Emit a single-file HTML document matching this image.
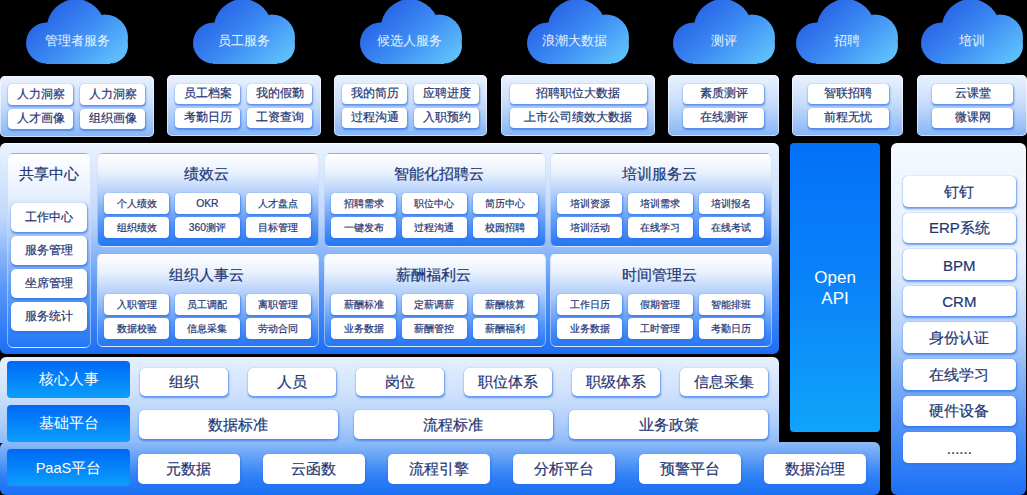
<!DOCTYPE html><html><head><meta charset="utf-8"><style>
*{margin:0;padding:0;box-sizing:border-box}
html,body{width:1027px;height:495px;background:#000;overflow:hidden}
body{position:relative;font-family:"Liberation Sans",sans-serif;color:#1e3674}
.a{position:absolute}
.cl{position:absolute;width:102px;height:64px;top:0}
.cl svg{position:absolute;left:0;top:0}
.cl span{position:absolute;left:0;width:102px;top:33px;text-align:center;color:#eaf2ff;font-size:12.5px;line-height:16px}
.tp{position:absolute;top:75px;height:61.3px;border-radius:5px;background:linear-gradient(180deg,#eaf2fe 0%,#c9ddfb 45%,#86b5f6 100%);box-shadow:inset 0 0 0 1px rgba(255,255,255,.55)}
.b{position:absolute;background:#fff;border-radius:4px;box-shadow:0.5px 1.5px 2px rgba(40,110,235,.65),0 0 1px rgba(80,130,220,.5);-webkit-text-stroke:0.2px #1e3674;display:flex;align-items:center;justify-content:center;white-space:nowrap;color:#1e3674}
.t12{font-size:11.8px}
.t11{font-size:10.3px;padding-top:1px}
.t15{font-size:15px}
.mp{position:absolute;left:0;top:143px;width:779px;height:211px;border-radius:6px;background:linear-gradient(180deg,#eaf2fe 0%,#c0d8fb 35%,#5a98f6 68%,#1b6ef5 100%);box-shadow:inset 0 1px 0 rgba(255,255,255,.8)}
.blk{position:absolute;border-radius:6px;border:1px solid rgba(196,216,248,.6);background:linear-gradient(180deg,#ffffff 0%,#e9f1fd 20%,#accbfa 45%,#629df6 72%,#2277f5 100%);}
.ttl{position:absolute;left:0;right:0;text-align:center;font-size:15px;-webkit-text-stroke:0.2px #1e3674;line-height:20px;color:#1e3674}
.lab{position:absolute;left:7px;width:123px;border-radius:4px;background:linear-gradient(180deg,#0068f7 0%,#0a9ffb 100%);color:#fff;font-size:14.6px;display:flex;align-items:center;justify-content:center;padding-top:1px}
</style></head><body>
<svg width="0" height="0" style="position:absolute"><defs><linearGradient id="cg" x1="30" y1="0" x2="85" y2="64" gradientUnits="userSpaceOnUse"><stop offset="0" stop-color="#2762e6"/><stop offset="0.5" stop-color="#3d8cf3"/><stop offset="1" stop-color="#5ebefc"/></linearGradient></defs></svg>
<div class="cl" style="left:26.4px"><svg width="102" height="64" viewBox="0 0 102 64"><g fill="url(#cg)"><circle cx="20.5" cy="43" r="20.5"/><circle cx="49.8" cy="28.2" r="29"/><circle cx="79" cy="37.5" r="23"/><rect x="20" y="36" width="64" height="28"/><circle cx="84" cy="45.6" r="18"/></g></svg><span style="left:0px">管理者服务</span></div>
<div class="cl" style="left:193.1px"><svg width="102" height="64" viewBox="0 0 102 64"><g fill="url(#cg)"><circle cx="20.5" cy="43" r="20.5"/><circle cx="49.8" cy="28.2" r="29"/><circle cx="79" cy="37.5" r="23"/><rect x="20" y="36" width="64" height="28"/><circle cx="84" cy="45.6" r="18"/></g></svg><span style="left:0px">员工服务</span></div>
<div class="cl" style="left:359.7px"><svg width="102" height="64" viewBox="0 0 102 64"><g fill="url(#cg)"><circle cx="20.5" cy="43" r="20.5"/><circle cx="49.8" cy="28.2" r="29"/><circle cx="79" cy="37.5" r="23"/><rect x="20" y="36" width="64" height="28"/><circle cx="84" cy="45.6" r="18"/></g></svg><span style="left:-1.4px">候选人服务</span></div>
<div class="cl" style="left:526.9px"><svg width="102" height="64" viewBox="0 0 102 64"><g fill="url(#cg)"><circle cx="20.5" cy="43" r="20.5"/><circle cx="49.8" cy="28.2" r="29"/><circle cx="79" cy="37.5" r="23"/><rect x="20" y="36" width="64" height="28"/><circle cx="84" cy="45.6" r="18"/></g></svg><span style="left:-3px">浪潮大数据</span></div>
<div class="cl" style="left:673px"><svg width="102" height="64" viewBox="0 0 102 64"><g fill="url(#cg)"><circle cx="20.5" cy="43" r="20.5"/><circle cx="49.8" cy="28.2" r="29"/><circle cx="79" cy="37.5" r="23"/><rect x="20" y="36" width="64" height="28"/><circle cx="84" cy="45.6" r="18"/></g></svg><span style="left:0px">测评</span></div>
<div class="cl" style="left:796.2px"><svg width="102" height="64" viewBox="0 0 102 64"><g fill="url(#cg)"><circle cx="20.5" cy="43" r="20.5"/><circle cx="49.8" cy="28.2" r="29"/><circle cx="79" cy="37.5" r="23"/><rect x="20" y="36" width="64" height="28"/><circle cx="84" cy="45.6" r="18"/></g></svg><span style="left:0px">招聘</span></div>
<div class="cl" style="left:920.9px"><svg width="102" height="64" viewBox="0 0 102 64"><g fill="url(#cg)"><circle cx="20.5" cy="43" r="20.5"/><circle cx="49.8" cy="28.2" r="29"/><circle cx="79" cy="37.5" r="23"/><rect x="20" y="36" width="64" height="28"/><circle cx="84" cy="45.6" r="18"/></g></svg><span style="left:0px">培训</span></div>
<div class="tp" style="left:0px;width:154px;top:75.9px"></div>
<div class="b t12" style="left:8px;top:84.4px;width:65px;height:20.5px">人力洞察</div>
<div class="b t12" style="left:80px;top:84.4px;width:65px;height:20.5px">人力洞察</div>
<div class="b t12" style="left:8px;top:108.7px;width:65px;height:20.5px">人才画像</div>
<div class="b t12" style="left:80px;top:108.7px;width:65px;height:20.5px">组织画像</div>
<div class="tp" style="left:167px;width:153.5px;top:75px"></div>
<div class="b t12" style="left:175px;top:83.5px;width:65px;height:20.5px">员工档案</div>
<div class="b t12" style="left:247px;top:83.5px;width:65px;height:20.5px">我的假勤</div>
<div class="b t12" style="left:175px;top:107.8px;width:65px;height:20.5px">考勤日历</div>
<div class="b t12" style="left:247px;top:107.8px;width:65px;height:20.5px">工资查询</div>
<div class="tp" style="left:334px;width:153px;top:75px"></div>
<div class="b t12" style="left:342px;top:83.5px;width:65px;height:20.5px">我的简历</div>
<div class="b t12" style="left:414px;top:83.5px;width:65px;height:20.5px">应聘进度</div>
<div class="b t12" style="left:342px;top:107.8px;width:65px;height:20.5px">过程沟通</div>
<div class="b t12" style="left:414px;top:107.8px;width:65px;height:20.5px">入职预约</div>
<div class="tp" style="left:501px;width:154px;top:75px"></div>
<div class="b t12" style="left:509.6px;top:83.5px;width:137.4px;height:20.5px">招聘职位大数据</div>
<div class="b t12" style="left:509.6px;top:107.8px;width:137.4px;height:20.5px">上市公司绩效大数据</div>
<div class="tp" style="left:668px;width:111px;top:75px"></div>
<div class="b t12" style="left:683px;top:83.5px;width:81px;height:20.5px">素质测评</div>
<div class="b t12" style="left:683px;top:107.8px;width:81px;height:20.5px">在线测评</div>
<div class="tp" style="left:792px;width:111px;top:75px"></div>
<div class="b t12" style="left:807.5px;top:83.5px;width:81px;height:20.5px">智联招聘</div>
<div class="b t12" style="left:807.5px;top:107.8px;width:81px;height:20.5px">前程无忧</div>
<div class="tp" style="left:917px;width:110px;top:75px"></div>
<div class="b t12" style="left:932px;top:83.5px;width:81px;height:20.5px">云课堂</div>
<div class="b t12" style="left:932px;top:107.8px;width:81px;height:20.5px">微课网</div>
<div class="mp"></div>
<div class="blk" style="left:6.9px;top:152.7px;width:84.6px;height:195px"><div class="ttl" style="top:10.3px">共享中心</div></div>
<div class="b t12" style="left:11px;top:203px;width:75.5px;height:29px;border-radius:5px;font-size:11.5px;padding-top:0.5px">工作中心</div>
<div class="b t12" style="left:11px;top:236px;width:75.5px;height:29px;border-radius:5px;font-size:11.5px;padding-top:0.5px">服务管理</div>
<div class="b t12" style="left:11px;top:269px;width:75.5px;height:29px;border-radius:5px;font-size:11.5px;padding-top:0.5px">坐席管理</div>
<div class="b t12" style="left:11px;top:302px;width:75.5px;height:29px;border-radius:5px;font-size:11.5px;padding-top:0.5px">服务统计</div>
<div class="blk" style="left:97px;top:152.7px;width:221.5px;height:94px"><div class="ttl" style="top:10.2px;left:-1px;right:1px">绩效云</div></div>
<div class="b t11" style="left:104px;top:192.89999999999998px;width:65px;height:21px">个人绩效</div>
<div class="b t11" style="left:174.9px;top:192.89999999999998px;width:65px;height:21px">OKR</div>
<div class="b t11" style="left:245.8px;top:192.89999999999998px;width:65px;height:21px">人才盘点</div>
<div class="b t11" style="left:104px;top:217.39999999999998px;width:65px;height:21px">组织绩效</div>
<div class="b t11" style="left:174.9px;top:217.39999999999998px;width:65px;height:21px">360测评</div>
<div class="b t11" style="left:245.8px;top:217.39999999999998px;width:65px;height:21px">目标管理</div>
<div class="blk" style="left:324px;top:152.7px;width:221.5px;height:94px"><div class="ttl" style="top:10.2px;left:4.4px;right:-4.4px">智能化招聘云</div></div>
<div class="b t11" style="left:331px;top:192.89999999999998px;width:65px;height:21px">招聘需求</div>
<div class="b t11" style="left:401.9px;top:192.89999999999998px;width:65px;height:21px">职位中心</div>
<div class="b t11" style="left:472.8px;top:192.89999999999998px;width:65px;height:21px">简历中心</div>
<div class="b t11" style="left:331px;top:217.39999999999998px;width:65px;height:21px">一键发布</div>
<div class="b t11" style="left:401.9px;top:217.39999999999998px;width:65px;height:21px">过程沟通</div>
<div class="b t11" style="left:472.8px;top:217.39999999999998px;width:65px;height:21px">校园招聘</div>
<div class="blk" style="left:550px;top:152.7px;width:221.5px;height:94px"><div class="ttl" style="top:10.2px;left:-1px;right:1px">培训服务云</div></div>
<div class="b t11" style="left:557px;top:192.89999999999998px;width:65px;height:21px">培训资源</div>
<div class="b t11" style="left:627.9px;top:192.89999999999998px;width:65px;height:21px">培训需求</div>
<div class="b t11" style="left:698.8px;top:192.89999999999998px;width:65px;height:21px">培训报名</div>
<div class="b t11" style="left:557px;top:217.39999999999998px;width:65px;height:21px">培训活动</div>
<div class="b t11" style="left:627.9px;top:217.39999999999998px;width:65px;height:21px">在线学习</div>
<div class="b t11" style="left:698.8px;top:217.39999999999998px;width:65px;height:21px">在线考试</div>
<div class="blk" style="left:97px;top:253.4px;width:221.5px;height:94px"><div class="ttl" style="top:10.2px;left:-1px;right:1px">组织人事云</div></div>
<div class="b t11" style="left:104px;top:293.6px;width:65px;height:21px">入职管理</div>
<div class="b t11" style="left:174.9px;top:293.6px;width:65px;height:21px">员工调配</div>
<div class="b t11" style="left:245.8px;top:293.6px;width:65px;height:21px">离职管理</div>
<div class="b t11" style="left:104px;top:318.1px;width:65px;height:21px">数据校验</div>
<div class="b t11" style="left:174.9px;top:318.1px;width:65px;height:21px">信息采集</div>
<div class="b t11" style="left:245.8px;top:318.1px;width:65px;height:21px">劳动合同</div>
<div class="blk" style="left:324px;top:253.4px;width:221.5px;height:94px"><div class="ttl" style="top:10.2px;left:-1px;right:1px">薪酬福利云</div></div>
<div class="b t11" style="left:331px;top:293.6px;width:65px;height:21px">薪酬标准</div>
<div class="b t11" style="left:401.9px;top:293.6px;width:65px;height:21px">定薪调薪</div>
<div class="b t11" style="left:472.8px;top:293.6px;width:65px;height:21px">薪酬核算</div>
<div class="b t11" style="left:331px;top:318.1px;width:65px;height:21px">业务数据</div>
<div class="b t11" style="left:401.9px;top:318.1px;width:65px;height:21px">薪酬管控</div>
<div class="b t11" style="left:472.8px;top:318.1px;width:65px;height:21px">薪酬福利</div>
<div class="blk" style="left:550px;top:253.4px;width:221.5px;height:94px"><div class="ttl" style="top:10.2px;left:-1px;right:1px">时间管理云</div></div>
<div class="b t11" style="left:557px;top:293.6px;width:65px;height:21px">工作日历</div>
<div class="b t11" style="left:627.9px;top:293.6px;width:65px;height:21px">假期管理</div>
<div class="b t11" style="left:698.8px;top:293.6px;width:65px;height:21px">智能排班</div>
<div class="b t11" style="left:557px;top:318.1px;width:65px;height:21px">业务数据</div>
<div class="b t11" style="left:627.9px;top:318.1px;width:65px;height:21px">工时管理</div>
<div class="b t11" style="left:698.8px;top:318.1px;width:65px;height:21px">考勤日历</div>
<div class="a" style="left:0;top:357px;width:778.5px;height:86px;border-radius:6px 6px 0 0;background:linear-gradient(180deg,#e6f0fe 0%,#d0e2fc 40%,#b0cef9 75%,#8ebbf8 100%)"></div>
<div class="a" style="left:0;top:442px;width:879.7px;height:53px;border-radius:6px 6px 6px 6px;background:linear-gradient(180deg,#8ebbf8 0%,#5a9bf6 35%,#2f80f5 65%,#1a70f5 100%)"></div>
<div class="lab" style="top:361px;height:36.5px">核心人事</div>
<div class="lab" style="top:405px;height:36.5px">基础平台</div>
<div class="lab" style="top:449.3px;height:36.8px">PaaS平台</div>
<div class="b t15" style="left:139.60px;top:367.5px;width:88px;height:28.6px;border-radius:5px;padding-top:1.5px">组织</div>
<div class="b t15" style="left:247.64px;top:367.5px;width:88px;height:28.6px;border-radius:5px;padding-top:1.5px">人员</div>
<div class="b t15" style="left:355.68px;top:367.5px;width:88px;height:28.6px;border-radius:5px;padding-top:1.5px">岗位</div>
<div class="b t15" style="left:463.72px;top:367.5px;width:88px;height:28.6px;border-radius:5px;padding-top:1.5px">职位体系</div>
<div class="b t15" style="left:571.76px;top:367.5px;width:88px;height:28.6px;border-radius:5px;padding-top:1.5px">职级体系</div>
<div class="b t15" style="left:679.80px;top:367.5px;width:88px;height:28.6px;border-radius:5px;padding-top:1.5px">信息采集</div>
<div class="b t15" style="left:139.00px;top:410.3px;width:198.5px;height:29px;border-radius:5px;padding-top:1.5px">数据标准</div>
<div class="b t15" style="left:354.15px;top:410.3px;width:198.5px;height:29px;border-radius:5px;padding-top:1.5px">流程标准</div>
<div class="b t15" style="left:569.30px;top:410.3px;width:198.5px;height:29px;border-radius:5px;padding-top:1.5px">业务政策</div>
<div class="b t15" style="left:137.70px;top:453.5px;width:102px;height:30px;border-radius:5px;padding-top:1.5px">元数据</div>
<div class="b t15" style="left:262.94px;top:453.5px;width:102px;height:30px;border-radius:5px;padding-top:1.5px">云函数</div>
<div class="b t15" style="left:388.18px;top:453.5px;width:102px;height:30px;border-radius:5px;padding-top:1.5px">流程引擎</div>
<div class="b t15" style="left:513.42px;top:453.5px;width:102px;height:30px;border-radius:5px;padding-top:1.5px">分析平台</div>
<div class="b t15" style="left:638.66px;top:453.5px;width:102px;height:30px;border-radius:5px;padding-top:1.5px">预警平台</div>
<div class="b t15" style="left:763.90px;top:453.5px;width:102px;height:30px;border-radius:5px;padding-top:1.5px">数据治理</div>
<div class="a" style="left:790.3px;top:142.7px;width:89.5px;height:289.5px;border-radius:4px;background:linear-gradient(180deg,#0470f8 0%,#0a84f8 50%,#10a4fb 100%);color:#fff;font-size:17px;line-height:21px;text-align:center;padding-top:124.4px">Open<br>API</div>
<div class="a" style="left:891.4px;top:143px;width:135px;height:352px;border-radius:6px;background:linear-gradient(180deg,#f5f9ff 0%,#e3eefd 35%,#b0cff9 55%,#5a98f6 78%,#1a6ff5 100%)"></div>
<div class="b t15" style="left:903px;top:176.0px;width:112.7px;height:30.5px;border-radius:5px;font-size:15px;padding-top:1.5px">钉钉</div>
<div class="b t15" style="left:903px;top:212.6px;width:112.7px;height:30.5px;border-radius:5px;font-size:15px;padding-top:1.5px">ERP系统</div>
<div class="b t15" style="left:903px;top:249.2px;width:112.7px;height:30.5px;border-radius:5px;font-size:15px;padding-top:1.5px">BPM</div>
<div class="b t15" style="left:903px;top:285.8px;width:112.7px;height:30.5px;border-radius:5px;font-size:15px;padding-top:1.5px">CRM</div>
<div class="b t15" style="left:903px;top:322.4px;width:112.7px;height:30.5px;border-radius:5px;font-size:15px;padding-top:1.5px">身份认证</div>
<div class="b t15" style="left:903px;top:359.0px;width:112.7px;height:30.5px;border-radius:5px;font-size:15px;padding-top:1.5px">在线学习</div>
<div class="b t15" style="left:903px;top:395.6px;width:112.7px;height:30.5px;border-radius:5px;font-size:15px;padding-top:1.5px">硬件设备</div>
<div class="b t15" style="left:903px;top:432.2px;width:112.7px;height:30.5px;border-radius:5px;font-size:15px;padding-top:1.5px">......</div>
</body></html>
